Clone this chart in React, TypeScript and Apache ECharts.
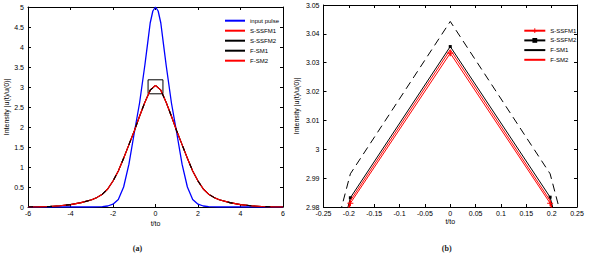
import React, { useEffect, useRef } from "react";
import * as echarts from "echarts";

// ---- data ----
// (a) full view
const tInput = [-6, -3, -2.5, -2.25, -2, -1.75, -1.5, -1.25, -1, -0.75, -0.5, -0.375, -0.25, -0.125, 0, 0.125, 0.25, 0.375, 0.5, 0.75, 1, 1.25, 1.5, 1.75, 2, 2.25, 2.5, 3, 6];
const inputPulse = [0, 0, 0.01, 0.025, 0.07, 0.19, 0.5, 1.07, 1.85, 2.6, 3.55, 4.07, 4.6, 4.9, 5.0, 4.9, 4.6, 4.07, 3.55, 2.6, 1.85, 1.07, 0.5, 0.19, 0.07, 0.025, 0.01, 0, 0];
const tOutput = [-6, -5.5, -5, -4.5, -4, -3.5, -3, -2.75, -2.5, -2.25, -2, -1.75, -1.5, -1.25, -1, -0.75, -0.5, -0.25, 0, 0.25, 0.5, 0.75, 1, 1.25, 1.5, 1.75, 2, 2.25, 2.5, 2.75, 3, 3.5, 4, 4.5, 5, 5.5, 6];
const outputPulse = [0, 0.004, 0.012, 0.03, 0.06, 0.11, 0.18, 0.24, 0.32, 0.45, 0.65, 0.9, 1.22, 1.56, 1.9, 2.27, 2.62, 2.92, 3.04, 2.92, 2.62, 2.27, 1.9, 1.56, 1.22, 0.9, 0.65, 0.45, 0.32, 0.24, 0.18, 0.11, 0.06, 0.03, 0.012, 0.004, 0];
const boxT = [-0.35, 0.35];
const boxI = [2.83, 3.18];

// (b) zoomed view of the peak
const tZoom = [-0.394, -0.197, 0, 0.197, 0.394];
const sSsfm1Zoom = [2.845, 2.9813, 3.0333, 2.9813, 2.845];
const sSsfm2Zoom = [2.848, 2.9832, 3.0356, 2.9834, 2.848];
const fSm1Zoom = [2.86, 2.9915, 3.0443, 2.9915, 2.86];
const fSm2Zoom = [2.846, 2.9822, 3.0345, 2.9822, 2.846];

const legendNames = ["S-SSFM1", "S-SSFM2", "F-SM1", "F-SM2"];
const inputName = "input pulse";

const FONT = "'Liberation Sans', Arial, sans-serif";
const fmt = (v: number) => String(+v.toFixed(2));
const zip = (xs: number[], ys: number[]) => xs.map((x, i) => [x, ys[i]]);

const PLUS = "path://M4,0H6V4H10V6H6V10H4V6H0V4H4Z";
const NO_SYM = { opacity: 0, color: "rgba(0,0,0,0)", borderWidth: 0 };

function axes(xmin: number, xmax: number, xint: number, ymin: number, ymax: number, yint: number, nameGapY: number, nameGapX: number) {
  const common = {
    axisLine: { show: true, onZero: false, lineStyle: { color: "#000", width: 1 } },
    axisTick: { show: true, inside: true, length: 3, lineStyle: { color: "#000" } },
    splitLine: { show: false },
  };
  const lbl = { color: "#000", fontSize: 7, fontFamily: FONT, formatter: fmt };
  return {
    xAxis: [
      { type: "value", min: xmin, max: xmax, interval: xint, position: "bottom", ...common,
        axisLabel: { ...lbl, margin: 3 }, name: "t/to", nameLocation: "middle", nameGap: nameGapX, nameMoveOverlap: false,
        nameTextStyle: { color: "#000", fontSize: 7, fontFamily: FONT } },
      { type: "value", min: xmin, max: xmax, interval: xint, position: "top", ...common, axisLabel: { show: false } },
    ],
    yAxis: [
      { type: "value", min: ymin, max: ymax, interval: yint, position: "left", ...common,
        axisLabel: { ...lbl, margin: 4 }, name: "Intensity |u(t)/u(0)|", nameLocation: "middle", nameGap: nameGapY, nameMoveOverlap: false,
        nameTextStyle: { color: "#000", fontSize: 7, fontFamily: FONT } },
      { type: "value", min: ymin, max: ymax, interval: yint, position: "right", ...common, axisLabel: { show: false } },
    ],
  };
}

function leftOption(): any {
  const base = { type: "line", symbol: "none", animation: false, clip: true, xAxisIndex: 0, yAxisIndex: 0 };
  const out = zip(tOutput, outputPulse);
  return {
    animation: false,
    backgroundColor: "transparent",
    grid: { left: 28, top: 7, width: 255, height: 200, containLabel: false, outerBoundsMode: "none" },
    ...axes(-6, 6, 2, 0, 5, 0.5, 18, 13),
    legend: {
      orient: "vertical", left: 219, top: 12.7, itemWidth: 20, itemHeight: 6, itemGap: 4,
      textStyle: { fontSize: 6, lineHeight: 6, color: "#000", fontFamily: FONT },
      data: [
        { name: inputName, itemStyle: NO_SYM },
        { name: "S-SSFM1", itemStyle: NO_SYM },
        { name: "S-SSFM2", itemStyle: NO_SYM },
        { name: "F-SM1", itemStyle: NO_SYM, lineStyle: { type: "solid" } },
        { name: "F-SM2", itemStyle: NO_SYM },
      ],
      selectedMode: false,
    },
    series: [
      { ...base, name: inputName, data: zip(tInput, inputPulse), z: 1, lineStyle: { color: "#0000ff", width: 1.3 }, itemStyle: { color: "#0000ff" } },
      { ...base, name: legendNames[0], data: out, z: 2, lineStyle: { color: "#ff0000", width: 1.1 }, itemStyle: { color: "#ff0000" },
        markArea: { silent: true, itemStyle: { color: "rgba(0,0,0,0)", borderColor: "#000", borderWidth: 1 },
          data: [[{ xAxis: boxT[0], yAxis: boxI[0] }, { xAxis: boxT[1], yAxis: boxI[1] }]] } },
      { ...base, name: legendNames[1], data: out, z: 3, lineStyle: { color: "#000", width: 1.1 }, itemStyle: { color: "#000" } },
      { ...base, name: legendNames[3], data: out, z: 4, lineStyle: { color: "#ff0000", width: 1.1 }, itemStyle: { color: "#ff0000" } },
      { ...base, name: legendNames[2], data: out, z: 5, lineStyle: { color: "#000", width: 1.1, type: [5, 14] }, itemStyle: { color: "#000" } },
    ],
  };
}

function rightOption(): any {
  const base = { type: "line", animation: false, clip: true, xAxisIndex: 0, yAxisIndex: 0 };
  return {
    animation: false,
    backgroundColor: "transparent",
    grid: { left: 35.5, top: 5, width: 253.5, height: 202, containLabel: false, outerBoundsMode: "none" },
    ...axes(-0.25, 0.25, 0.05, 2.98, 3.05, 0.01, 23.5, 11),
    legend: {
      orient: "vertical", left: 230.3, top: 22.7, itemWidth: 21, itemHeight: 6, itemGap: 3.7,
      textStyle: { fontSize: 6, lineHeight: 6, color: "#000", fontFamily: FONT },
      data: [
        { name: "S-SSFM1" },
        { name: "S-SSFM2" },
        { name: "F-SM1", itemStyle: NO_SYM, lineStyle: { type: "solid" } },
        { name: "F-SM2", itemStyle: NO_SYM },
      ],
      selectedMode: false,
    },
    series: [
      { ...base, name: legendNames[0], data: zip(tZoom, sSsfm1Zoom), z: 4, symbol: PLUS, symbolSize: 6, showSymbol: true,
        lineStyle: { color: "#ff0000", width: 1 }, itemStyle: { color: "#ff0000" } },
      { ...base, name: legendNames[1], data: zip(tZoom, sSsfm2Zoom), z: 2, symbol: "rect", symbolSize: 3, showSymbol: true,
        lineStyle: { color: "#000", width: 1 }, itemStyle: { color: "#000" } },
      { ...base, name: legendNames[2], data: zip(tZoom, fSm1Zoom), z: 3, symbol: "none",
        lineStyle: { color: "#000", width: 1, type: [8, 5] }, itemStyle: { color: "#000" } },
      { ...base, name: legendNames[3], data: zip(tZoom, fSm2Zoom), z: 3, symbol: "none",
        lineStyle: { color: "#ff0000", width: 1 }, itemStyle: { color: "#ff0000" } },
    ],
  };
}

function Chart({ option, style }: { option: any; style: React.CSSProperties }) {
  const ref = useRef<HTMLDivElement>(null);
  useEffect(() => {
    if (!ref.current) return;
    const chart = echarts.init(ref.current, undefined, { renderer: "svg" });
    chart.setOption(option);
    return () => chart.dispose();
  }, []);
  return <div ref={ref} style={style} />;
}

export default function App() {
  const capStyle: React.CSSProperties = {
    position: "absolute", top: 243, width: 30, textAlign: "center",
    fontFamily: "'Liberation Serif', 'Times New Roman', serif", fontWeight: "bold", fontSize: 8, color: "#222",
    lineHeight: "12px",
  };
  return (
    <div style={{ position: "absolute", left: 0, top: 0, width: 589, height: 258, background: "#fff", overflow: "hidden" }}>
      <Chart option={leftOption()} style={{ position: "absolute", left: 0, top: 0, width: 288, height: 258 }} />
      <Chart option={rightOption()} style={{ position: "absolute", left: 288, top: 0, width: 301, height: 258 }} />
      <div style={{ ...capStyle, left: 122.5 }}>(a)</div>
      <div style={{ ...capStyle, left: 431.7 }}>(b)</div>
    </div>
  );
}
